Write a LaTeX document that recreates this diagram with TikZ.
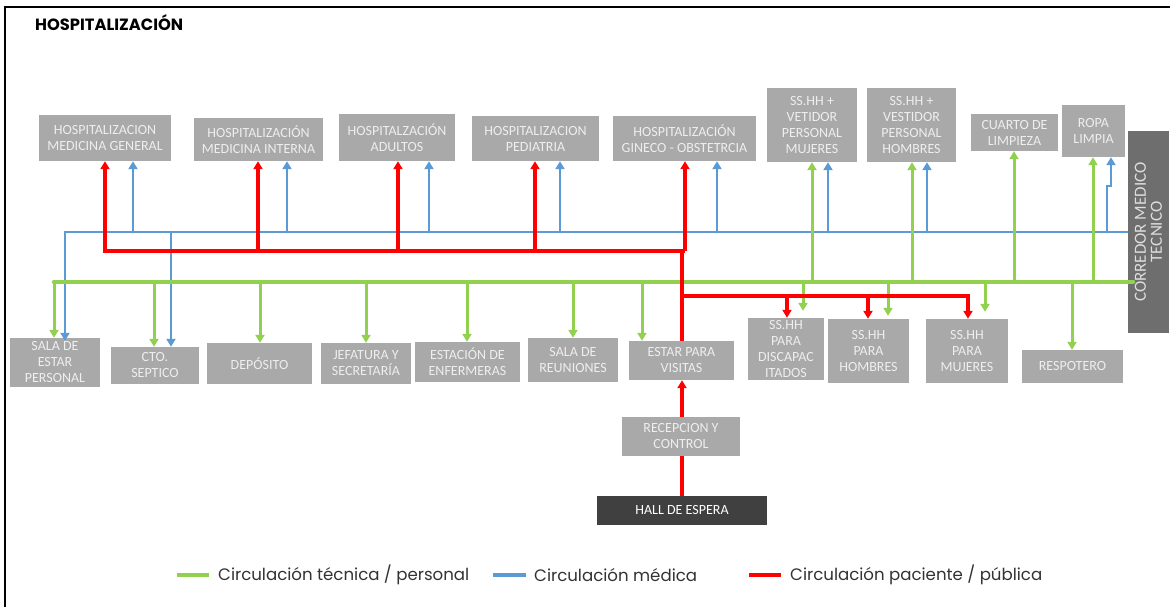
\documentclass[tikz,border=0pt]{standalone}
\usepackage{fontspec}
\setmainfont{Carlito}
\newfontfamily\geo{Poppins}
\usetikzlibrary{arrows.meta}

\definecolor{cgreen}{HTML}{92D050}
\definecolor{cblue}{HTML}{5B9BD5}
\definecolor{cred}{HTML}{FF0000}
\definecolor{boxgray}{HTML}{A9A9A9}
\definecolor{boxtext}{HTML}{EEEEEE}
\definecolor{corrgray}{HTML}{6E6E6E}
\definecolor{corrtext}{HTML}{DDDDDD}
\definecolor{hallgray}{HTML}{404040}
\definecolor{legtext}{HTML}{333333}

\begin{document}
\begin{tikzpicture}[x=1pt,y=-1pt,
  room/.style={fill=boxgray, text=boxtext, inner sep=0pt, align=center,
    font=\fontsize{14}{16}\selectfont},
  hall/.style={room, fill=hallgray, text=white},
  corr/.style={fill=corrgray, inner sep=0pt},
  tip/.style={-{Triangle[length=8pt,width=9pt]}},
  tec/.style={draw=cgreen, line width=3pt},
  tecbus/.style={draw=cgreen, line width=4.5pt},
  med/.style={draw=cblue, line width=2.8pt},
  pac/.style={draw=cred, line width=3.5pt},
  pactrunk/.style={draw=cred, line width=4pt},
  legend/.style={anchor=west, text=legtext, inner sep=0pt,
    font=\geo\fontsize{16.6}{19}\selectfont},
]
\useasboundingbox (0,0) rectangle (1170,607);
\fill[white] (0,0) rectangle (1170,607);
\draw[line width=2pt] (5,607) -- (5,7) -- (1170,7);

\node[anchor=base west, inner sep=0pt, font=\geo\bfseries\fontsize{16.3}{19}\selectfont] (title) at (35,31) {HOSPITALIZACIÓN};

% upper row of rooms
\node[room, minimum width=132pt, minimum height=46pt] (mg) at (105,138) {HOSPITALIZACION\\MEDICINA GENERAL};
\node[room, minimum width=129pt, minimum height=43pt] (mi) at (258.5,139.5) {HOSPITALIZACIÓN\\MEDICINA INTERNA};
\node[room, minimum width=116pt, minimum height=47pt] (ad) at (397,137.5) {HOSPITALZACIÓN\\ADULTOS};
\node[room, minimum width=127pt, minimum height=45pt] (pe) at (535.5,138.5) {HOSPITALIZACION\\PEDIATRIA};
\node[room, minimum width=143pt, minimum height=45pt] (gi) at (684.5,138.5) {HOSPITALIZACIÓN\\GINECO - OBSTETRCIA};
\node[room, minimum width=90pt, minimum height=74pt] (vm) at (812,125) {SS.HH +\\VETIDOR\\PERSONAL\\MUJERES};
\node[room, minimum width=89pt, minimum height=74pt] (vh) at (911.5,125) {SS.HH +\\VESTIDOR\\PERSONAL\\HOMBRES};
\node[room, minimum width=87pt, minimum height=37pt] (cl) at (1014.5,132.5) {CUARTO DE\\LIMPIEZA};
\node[room, minimum width=63pt, minimum height=52pt] (rl) at (1093.5,131) {ROPA\\LIMPIA};

% technical corridor
\node[corr, minimum width=41pt, minimum height=202pt] (cor) at (1148.5,232) {};
\node[rotate=90, text=corrtext, align=center, inner sep=0pt,
  font=\fontsize{17}{16}\selectfont] (corlabel) at (cor.center) {CORREDOR MEDICO\\TECNICO};

% lower row of rooms
\node[room, minimum width=90pt, minimum height=49pt] (se) at (55,362.5) {SALA DE\\ESTAR\\PERSONAL};
\node[room, minimum width=88pt, minimum height=37pt] (ct) at (155,365.5) {CTO.\\SEPTICO};
\node[room, minimum width=105pt, minimum height=41pt] (de) at (259.5,363.5) {DEPÓSITO};
\node[room, minimum width=90pt, minimum height=41pt] (je) at (366,363.5) {JEFATURA Y\\SECRETARÍA};
\node[room, minimum width=105pt, minimum height=40pt] (es) at (467.5,362) {ESTACIÓN DE\\ENFERMERAS};
\node[room, minimum width=90pt, minimum height=44pt] (sr) at (573,360) {SALA DE\\REUNIONES};
\node[room, minimum width=105pt, minimum height=39pt] (ev) at (681.5,360.5) {ESTAR PARA\\VISITAS};
\node[room, minimum width=76pt, minimum height=62pt] (sd) at (786,349) {SS.HH\\PARA\\DISCAPAC\\ITADOS};
\node[room, minimum width=81pt, minimum height=64pt] (sh) at (868.5,351) {SS.HH\\PARA\\HOMBRES};
\node[room, minimum width=82pt, minimum height=64pt] (sm) at (967,351) {SS.HH\\PARA\\MUJERES};
\node[room, minimum width=101pt, minimum height=33pt] (re) at (1072.5,366.5) {RESPOTERO};
\node[room, minimum width=118pt, minimum height=39pt] (rc) at (681,436.5) {RECEPCION Y\\CONTROL};
\node[hall, minimum width=170pt, minimum height=29pt] (ha) at (682,510.5) {HALL DE ESPERA};

% medical circulation (blue)
\coordinate (mL) at (65,232);
\coordinate (mS) at (171,232);
\draw[med, tip] (cor.west |- mL) -- (mL) -- ([yshift=-3pt]mL |- se.north);
\draw[med, tip] (mS) -- (mS |- ct.north);
\foreach \x/\n in {133/mg, 287/mi, 429/ad, 560/pe, 717/gi, 828/vm, 927/vh}{
  \coordinate (m\n) at (\x,232);
  \draw[med, tip] (m\n) -- (m\n |- \n.south);
}
\coordinate (mr1) at (1107,232);
\coordinate (mr2) at (1107,186);
\coordinate (mr3) at (1111,186);
\draw[med, tip] (mr1) -- (mr2) -- (mr3) -- (mr3 |- rl.south);

% technical / staff circulation (green)
\coordinate (tL) at (54,282);
\coordinate (tR) at (1133,282);
\draw[tec, tip] (tL) -- (tL |- se.north);
\foreach \x/\n in {154/ct, 260/de, 366/je, 467/es, 573/sr, 642/ev, 1072/re}{
  \coordinate (t\n) at (\x,282);
  \draw[tec, tip] (t\n) -- (t\n |- \n.north);
}
\foreach \x/\n/\s in {803/sd/7pt, 888/sh/3pt, 985/sm/7pt}{
  \coordinate (t\n) at (\x,282);
  \draw[tec, tip, shorten >=\s] (t\n) -- (t\n |- \n.north);
}
\foreach \x/\n in {812/vm, 912/vh, 1014/cl, 1093/rl}{
  \coordinate (t\n) at (\x,282);
  \draw[tec, tip] (t\n) -- (t\n |- \n.south);
}
\draw[tecbus, line cap=round] (tL) -- (tR);

% patient / public circulation (red)
\coordinate (pL) at (105,251);
\coordinate (pR) at (685,251);
\coordinate (pT) at (682,251);
\coordinate (pG) at (pR |- gi.south);
\draw[pac, tip] (pR) -- (pL) -- (pL |- mg.south);
\draw[pac, tip] (pR) -- (pG);
\foreach \x/\n in {258/mi, 398/ad, 535/pe}{
  \coordinate (p\n) at (\x,251);
  \draw[pac, tip] (p\n) -- (p\n |- \n.south);
}
\draw[pactrunk] (pT) -- (pT |- ev.north);
\coordinate (pB) at (682,296);
\coordinate (pE) at (968,296);
\draw[pac, tip] (pB) -- (pE) -- (pE |- sm.north);
\foreach \x/\n in {787/sd, 868/sh}{
  \coordinate (p\n) at (\x,296);
  \draw[pac, tip] (p\n) -- (p\n |- \n.north);
}
\draw[pactrunk, tip] (pT |- rc.north) -- (pT |- ev.south);
\draw[pactrunk] (pT |- ha.north) -- (pT |- rc.south);

% legend
\coordinate (lg1) at (177,575); \coordinate (lg2) at (209,575);
\coordinate (lb1) at (493,575); \coordinate (lb2) at (526,575);
\coordinate (lr1) at (749,575); \coordinate (lr2) at (781,575);
\draw[tec, line width=4pt] (lg1) -- (lg2);
\draw[med, line width=4pt] (lb1) -- (lb2);
\draw[pac, line width=4pt] (lr1) -- (lr2);
\node[legend] (leg1) at (218,575) {Circulación técnica / personal};
\node[legend] (leg2) at (534,575) {Circulación médica};
\node[legend] (leg3) at (790,575) {Circulación paciente / pública};
\end{tikzpicture}
\end{document}
